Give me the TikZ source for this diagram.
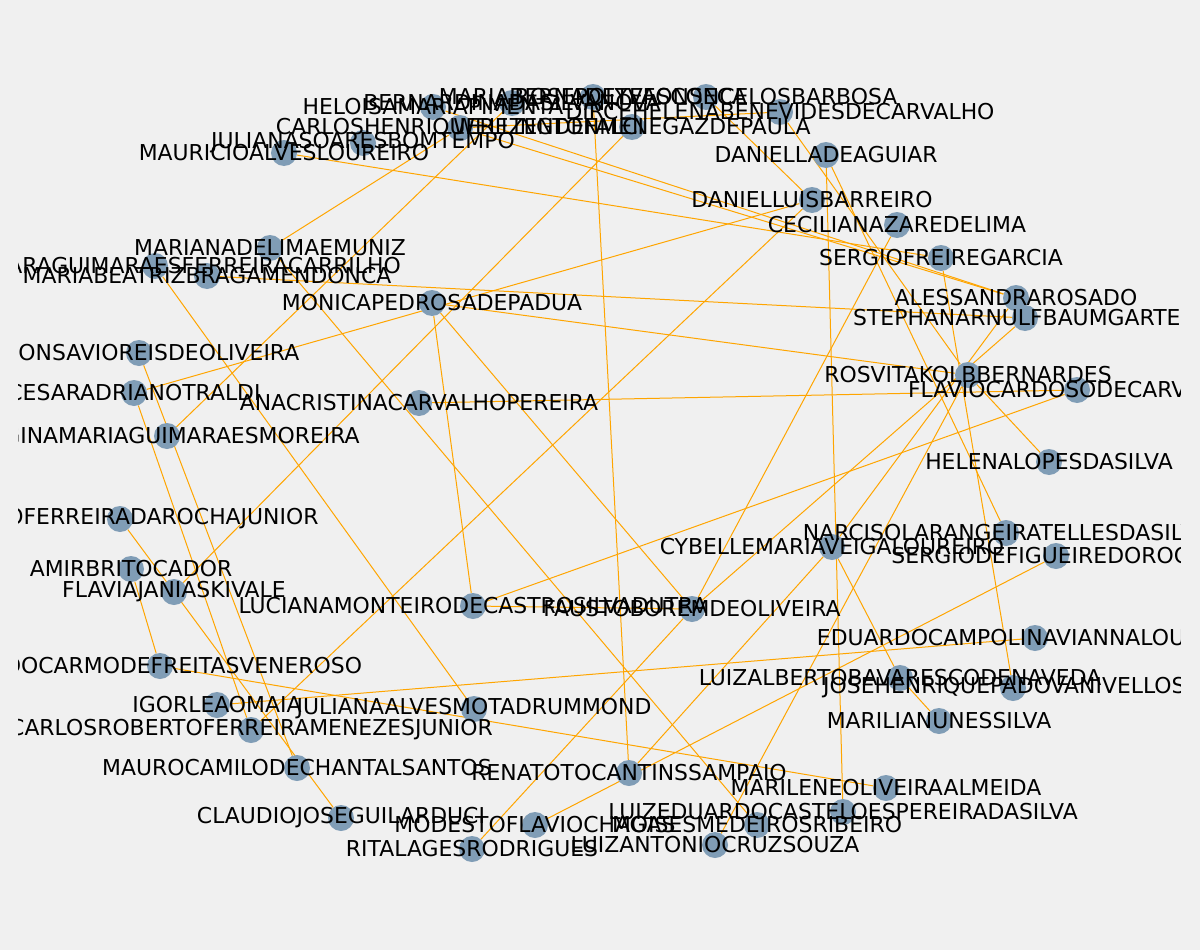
\documentclass[tikz,border=0pt]{standalone}
\usepackage{fontspec}
\setmainfont{DejaVu Sans}
\definecolor{bgray}{RGB}{240,240,240}
\definecolor{nodeblue}{RGB}{128,157,182}
\definecolor{edgeorange}{RGB}{255,165,0}
\pgfdeclarelayer{background}
\pgfsetlayers{background,main}
\tikzset{
  vertex/.style={circle, fill=nodeblue, inner sep=0pt, minimum size=26pt},
  link/.style={draw=edgeorange, line width=1pt},
  tag/.style={font=\fontsize{21.9}{26}\selectfont, inner sep=0pt, text=black}
}
\begin{document}
\begin{tikzpicture}[x=1pt,y=-1pt]
  \useasboundingbox (0,0) rectangle (1200,950);
  \begin{scope}
    \clip (18,0) rectangle (1180,950);
    % top cluster
    \node[vertex] (helo) at (433,107) {};
    \node[vertex] (bern) at (512,103) {};
    \node[vertex] (rose) at (593,97) {};
    \node[vertex] (vasc) at (706,97) {};
    \node[vertex] (mhel) at (780,112) {};
    \node[vertex] (well) at (632,127) {};
    \node[vertex] (carl) at (460,128) {};
    \node[vertex] (juls) at (363,143) {};
    \node[vertex] (maur) at (284,153) {};
    % right side
    \node[vertex] (dagu) at (826,155) {};
    \node[vertex] (dlui) at (812,200) {};
    \node[vertex] (ceci) at (897,225) {};
    \node[vertex] (sfre) at (941,258) {};
    \node[vertex] (aless) at (1016,298) {};
    \node[vertex] (steph) at (1025,318) {};
    \node[vertex] (rosv) at (968,375) {};
    \node[vertex] (flav) at (1077,390) {};
    \node[vertex] (hele) at (1049,462) {};
    \node[vertex] (narc) at (1006,533) {};
    \node[vertex] (cybe) at (832,547) {};
    \node[vertex] (sfig) at (1056,556) {};
    \node[vertex] (educ) at (1035,638) {};
    \node[vertex] (luiza) at (900,678) {};
    \node[vertex] (jose) at (1013,688) {};
    \node[vertex] (mari) at (939,721) {};
    \node[vertex] (marl) at (886,788) {};
    \node[vertex] (lued) at (843,812) {};
    % bottom
    \node[vertex] (mede) at (757,825) {};
    \node[vertex] (luan) at (715,845) {};
    \node[vertex] (rena) at (629,773) {};
    \node[vertex] (mode) at (535,825) {};
    \node[vertex] (rita) at (472,849) {};
    \node[vertex] (clau) at (341,818) {};
    \node[vertex] (mauc) at (297,768) {};
    \node[vertex] (crob) at (251,730) {};
    \node[vertex] (igor) at (217,705) {};
    \node[vertex] (jula) at (474,709) {};
    % left side
    \node[vertex] (docm) at (160,666) {};
    \node[vertex] (fjan) at (174,592) {};
    \node[vertex] (amir) at (131,569) {};
    \node[vertex] (ferr) at (120,519) {};
    \node[vertex] (gmor) at (167,436) {};
    \node[vertex] (cesa) at (134,393) {};
    \node[vertex] (afon) at (139,353) {};
    \node[vertex] (arag) at (155,266) {};
    \node[vertex] (mbea) at (207,276) {};
    \node[vertex] (mlim) at (270,248) {};
    % middle
    \node[vertex] (moni) at (432,303) {};
    \node[vertex] (anac) at (419,403) {};
    \node[vertex] (luci) at (473,606) {};
    \node[vertex] (rais) at (692,609) {};

    \begin{pgfonlayer}{background}
      \fill[bgray] (0,0) rectangle (1200,950);
      \draw[link] (helo) -- (aless);
      \draw[link] (carl) -- (aless);
      \draw[link] (maur) -- (sfre);
      \draw[link] (carl) -- (mlim);
      \draw[link] (gmor) -- (bern);
      \draw[link] (carl) -- (mhel);
      \draw[link] (mhel) -- (rosv);
      \draw[link] (vasc) -- (dlui);
      \draw[link] (rose) -- (rena);
      \draw[link] (fjan) -- (well);
      \draw[link] (cesa) -- (dlui);
      \draw[link] (cesa) -- (crob);
      \draw[link] (afon) -- (mauc);
      \draw[link] (amir) -- (docm);
      \draw[link] (ferr) -- (clau);
      \draw[link] (arag) -- (jula);
      \draw[link] (mbea) -- (steph);
      \draw[link] (mlim) -- (mede);
      \draw[link] (moni) -- (luci);
      \draw[link] (moni) -- (rais);
      \draw[link] (moni) -- (rosv);
      \draw[link] (luci) -- (rais);
      \draw[link] (luci) -- (flav);
      \draw[link] (anac) -- (flav);
      \draw[link] (crob) -- (dlui);
      \draw[link] (igor) -- (educ);
      \draw[link] (docm) -- (marl);
      \draw[link] (rais) -- (ceci);
      \draw[link] (rais) -- (steph);
      \draw[link] (rais) -- (rita);
      \draw[link] (aless) -- (cybe);
      \draw[link] (rosv) -- (hele);
      \draw[link] (rosv) -- (luan);
      \draw[link] (dagu) -- (lued);
      \draw[link] (dagu) -- (narc);
      \draw[link] (sfre) -- (jose);
      \draw[link] (cybe) -- (rena);
      \draw[link] (cybe) -- (luiza);
      \draw[link] (luiza) -- (mari);
      \draw[link] (sfig) -- (mode);
    \end{pgfonlayer}

    % names
    \node[tag] at (helo) {HELOISAMARIAPIMENTA};
    \node[tag] at (bern) {BERNARDINADASILVANOVA};
    \node[tag] at (rose) {MARIABERNADETEFONSECA};
    \node[tag] at (vasc) {ROSEPOLYVASCONCELOSBARBOSA};
    \node[tag] at (mhel) {DIRCEHELENABENEVIDESDECARVALHO};
    \node[tag] at (well) {WELLINGTONMENEGAZDEPAULA};
    \node[tag] at (carl) {CARLOSHENRIQUEREZENDEFALCI};
    \node[tag] at (juls) {JULIANASOARESBOMTEMPO};
    \node[tag] at (maur) {MAURICIOALVESLOUREIRO};
    \node[tag] at (dagu) {DANIELLADEAGUIAR};
    \node[tag] at (dlui) {DANIELLUISBARREIRO};
    \node[tag] at (ceci) {CECILIANAZAREDELIMA};
    \node[tag] at (sfre) {SERGIOFREIREGARCIA};
    \node[tag] at (aless) {ALESSANDRAROSADO};
    \node[tag] at (steph) {STEPHANARNULFBAUMGARTEN};
    \node[tag] at (rosv) {ROSVITAKOLBBERNARDES};
    \node[tag] at (flav) {FLAVIOCARDOSODECARVALHO};
    \node[tag] at (hele) {HELENALOPESDASILVA};
    \node[tag] at (narc) {NARCISOLARANGEIRATELLESDASILVA};
    \node[tag] at (cybe) {CYBELLEMARIAVEIGALOUREIRO};
    \node[tag] at (sfig) {SERGIODEFIGUEIREDOROCHA};
    \node[tag] at (educ) {EDUARDOCAMPOLINAVIANNALOUREIRO};
    \node[tag] at (luiza) {LUIZALBERTOBAVARESCODENAVEDA};
    \node[tag] at (jose) {JOSEHENRIQUEPADOVANIVELLOSO};
    \node[tag] at (mari) {MARILIANUNESSILVA};
    \node[tag] at (marl) {MARILENEOLIVEIRAALMEIDA};
    \node[tag] at (lued) {LUIZEDUARDOCASTELOESPEREIRADASILVA};
    \node[tag] at (mede) {MOISESMEDEIROSRIBEIRO};
    \node[tag] at (luan) {LUIZANTONIOCRUZSOUZA};
    \node[tag] at (rena) {RENATOTOCANTINSSAMPAIO};
    \node[tag] at (mode) {MODESTOFLAVIOCHAGAS};
    \node[tag] at (rita) {RITALAGESRODRIGUES};
    \node[tag] at (clau) {CLAUDIOJOSEGUILARDUCI};
    \node[tag] at (mauc) {MAUROCAMILODECHANTALSANTOS};
    \node[tag] at (crob) {CARLOSROBERTOFERREIRAMENEZESJUNIOR};
    \node[tag] at (igor) {IGORLEAOMAIA};
    \node[tag] at (jula) {JULIANAALVESMOTADRUMMOND};
    \node[tag] at (docm) {ANADOCARMODEFREITASVENEROSO};
    \node[tag] at (fjan) {FLAVIAJANIASKIVALE};
    \node[tag] at (amir) {AMIRBRITOCADOR};
    \node[tag] at (ferr) {ANTONIOFERREIRADAROCHAJUNIOR};
    \node[tag] at (gmor) {REGINAMARIAGUIMARAESMOREIRA};
    \node[tag] at (cesa) {CESARADRIANOTRALDI};
    \node[tag] at (afon) {ALFONSAVIOREISDEOLIVEIRA};
    \node[tag] at (arag) {MARIACLARAGUIMARAESFERREIRACARRILHO};
    \node[tag] at (mbea) {MARIABEATRIZBRAGAMENDONCA};
    \node[tag] at (mlim) {MARIANADELIMAEMUNIZ};
    \node[tag] at (moni) {MONICAPEDROSADEPADUA};
    \node[tag] at (anac) {ANACRISTINACARVALHOPEREIRA};
    \node[tag] at (luci) {LUCIANAMONTEIRODECASTROSILVADUTRA};
    \node[tag] at (rais) {FAUSTOBOREMDEOLIVEIRA};
  \end{scope}
\end{tikzpicture}
\end{document}
